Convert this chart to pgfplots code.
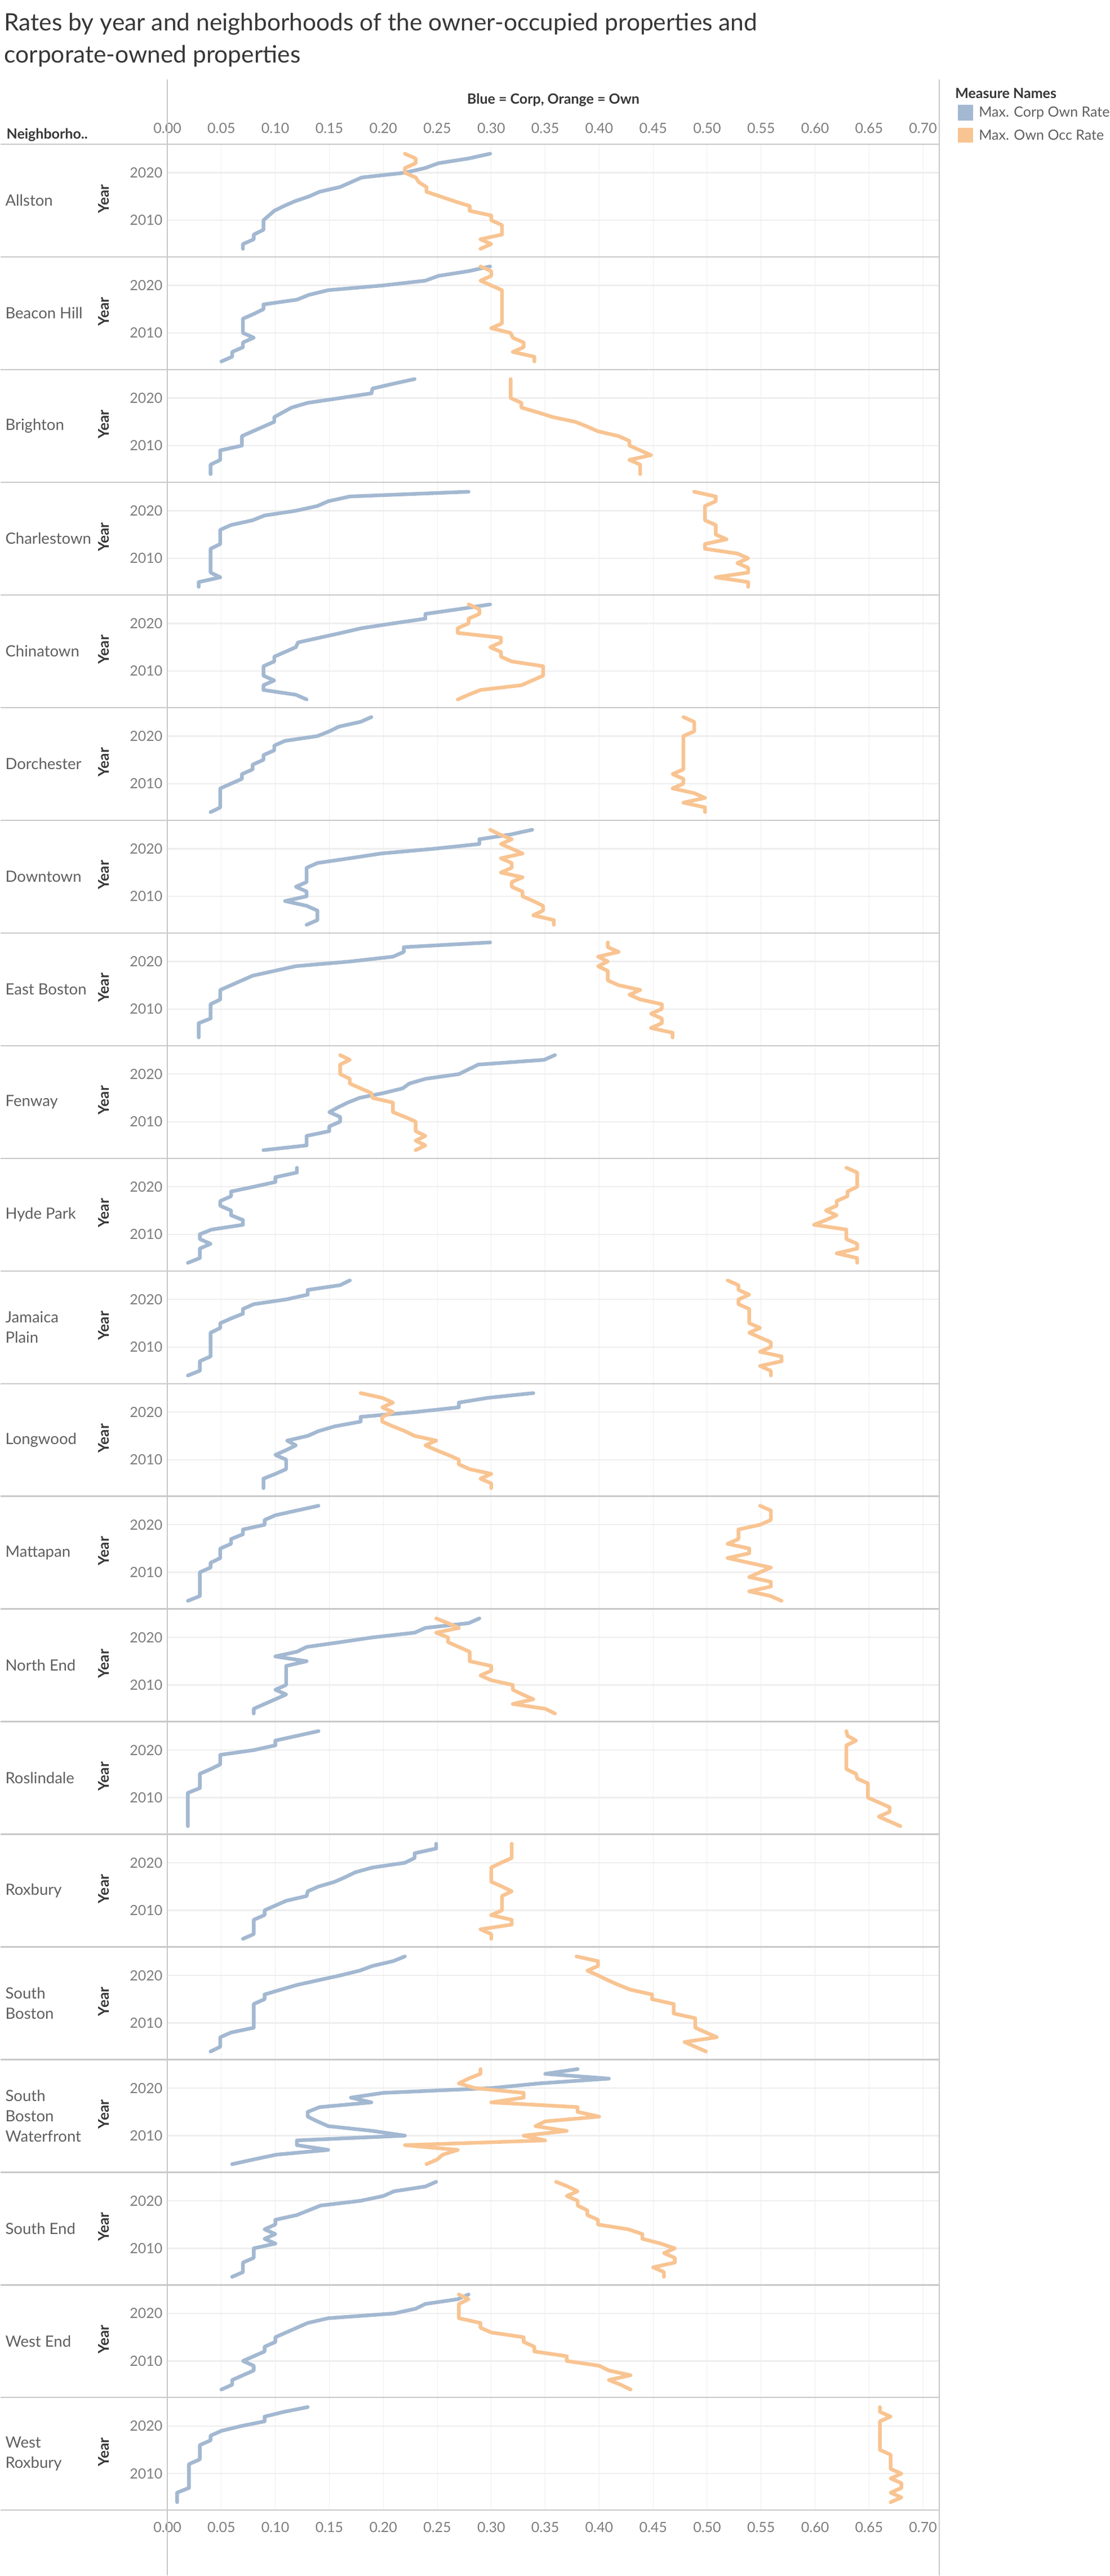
\documentclass[border=0pt]{standalone}
\usepackage{pgfplots}
\pgfplotsset{compat=1.18}
\usepackage{fontspec}
\setmainfont{Lato}
\definecolor{corp}{RGB}{163,184,209}
\definecolor{own}{RGB}{248,196,146}
\definecolor{gridc}{RGB}{238,238,238}
\definecolor{sepc}{RGB}{200,200,200}
\definecolor{tickc}{RGB}{125,125,125}
\definecolor{namec}{RGB}{95,95,95}
\definecolor{titc}{RGB}{55,55,55}
\newcommand{\fs}{\fontsize{10}{12}\selectfont}
\pgfplotsset{panel/.style={scale only axis, width=548pt, height=80pt,
  xmin=0, xmax=0.715, ymin=2002.3, ymax=2026,
  axis line style={draw=none}, tick style={draw=none},
  xtick={0,0.05,0.10,0.15,0.20,0.25,0.30,0.35,0.40,0.45,0.50,0.55,0.60,0.65,0.70},
  ytick={2010,2020}, xmajorgrids, ymajorgrids,
  x grid style={color=gridc, line width=0.4pt},
  y grid style={color=gridc, line width=0.9pt},
  xticklabels={},
  yticklabel style={font=\fs, color=tickc, /pgf/number format/1000 sep={}, /pgf/number format/assume math mode=true},
  xticklabel style={font=\fs, color=tickc},
  anchor=north west},
  corpl/.style={color=corp, line width=2.6pt, line join=round, line cap=round, mark=none},
  ownl/.style={color=own, line width=2.6pt, line join=round, line cap=round, mark=none}}
\newcommand{\xlabs}{xticklabels={0.00,0.05,0.10,0.15,0.20,0.25,0.30,0.35,0.40,0.45,0.50,0.55,0.60,0.65,0.70}}
\newcommand{\panel}[4]{%
\begin{axis}[panel, at={(118.4pt,{-(256+200*#1)*0.4pt})}, #4]
\addplot[corpl] coordinates {#2};
\addplot[ownl] coordinates {#3};
\end{axis}}
\begin{document}
\begin{tikzpicture}
\path (0,0) rectangle (786.4pt,-1828.8pt);
% Allston
\panel{0}{(0.299,2024)(0.279,2023)(0.251,2022)(0.239,2021)(0.22,2020)(0.18,2019)(0.17,2018)(0.16,2017)(0.141,2016)(0.131,2015)(0.118,2014)(0.108,2013)(0.099,2012)(0.094,2011)(0.089,2010)(0.089,2009)(0.089,2008)(0.08,2007)(0.08,2006)(0.07,2005)(0.07,2004)}
{(0.22,2024)(0.23,2023)(0.23,2022)(0.22,2021)(0.22,2020)(0.23,2019)(0.233,2018)(0.24,2017)(0.24,2016)(0.253,2015)(0.266,2014)(0.28,2013)(0.28,2012)(0.3,2011)(0.3,2010)(0.31,2009)(0.31,2008)(0.31,2007)(0.29,2006)(0.3,2005)(0.29,2004)}
{xticklabel pos=upper, \xlabs, xticklabel style={yshift=4pt}}
% Beacon Hill
\panel{1}{(0.299,2024)(0.279,2023)(0.251,2022)(0.239,2021)(0.2,2020)(0.149,2019)(0.131,2018)(0.12,2017)(0.089,2016)(0.089,2015)(0.08,2014)(0.07,2013)(0.07,2012)(0.07,2011)(0.07,2010)(0.08,2009)(0.07,2008)(0.07,2007)(0.06,2006)(0.06,2005)(0.05,2004)}
{(0.29,2024)(0.3,2023)(0.3,2022)(0.29,2021)(0.3,2020)(0.31,2019)(0.31,2018)(0.31,2017)(0.31,2016)(0.31,2015)(0.31,2014)(0.31,2013)(0.31,2012)(0.3,2011)(0.318,2010)(0.32,2009)(0.33,2008)(0.33,2007)(0.32,2006)(0.34,2005)(0.34,2004)}{}
% Brighton
\panel{2}{(0.229,2024)(0.209,2023)(0.19,2022)(0.189,2021)(0.16,2020)(0.13,2019)(0.115,2018)(0.107,2017)(0.099,2016)(0.099,2015)(0.089,2014)(0.079,2013)(0.069,2012)(0.069,2011)(0.069,2010)(0.049,2009)(0.049,2008)(0.049,2007)(0.04,2006)(0.04,2005)(0.04,2004)}
{(0.318,2024)(0.318,2023)(0.318,2022)(0.318,2021)(0.318,2020)(0.328,2019)(0.328,2018)(0.343,2017)(0.357,2016)(0.378,2015)(0.389,2014)(0.399,2013)(0.418,2012)(0.428,2011)(0.428,2010)(0.438,2009)(0.448,2008)(0.428,2007)(0.438,2006)(0.438,2005)(0.438,2004)}{}
% Charlestown
\panel{3}{(0.279,2024)(0.169,2023)(0.149,2022)(0.139,2021)(0.119,2020)(0.09,2019)(0.079,2018)(0.059,2017)(0.049,2016)(0.049,2015)(0.049,2014)(0.049,2013)(0.04,2012)(0.04,2011)(0.04,2010)(0.04,2009)(0.04,2008)(0.04,2007)(0.049,2006)(0.029,2005)(0.029,2004)}
{(0.488,2024)(0.508,2023)(0.508,2022)(0.498,2021)(0.498,2020)(0.498,2019)(0.498,2018)(0.508,2017)(0.508,2016)(0.508,2015)(0.518,2014)(0.498,2013)(0.498,2012)(0.528,2011)(0.538,2010)(0.528,2009)(0.538,2008)(0.538,2007)(0.508,2006)(0.538,2005)(0.538,2004)}{}
% Chinatown
\panel{4}{(0.299,2024)(0.27,2023)(0.239,2022)(0.239,2021)(0.209,2020)(0.18,2019)(0.161,2018)(0.141,2017)(0.121,2016)(0.119,2015)(0.109,2014)(0.099,2013)(0.099,2012)(0.089,2011)(0.089,2010)(0.089,2009)(0.099,2008)(0.089,2007)(0.089,2006)(0.119,2005)(0.129,2004)}
{(0.279,2024)(0.289,2023)(0.289,2022)(0.279,2021)(0.279,2020)(0.269,2019)(0.269,2018)(0.309,2017)(0.309,2016)(0.299,2015)(0.309,2014)(0.309,2013)(0.319,2012)(0.348,2011)(0.348,2010)(0.348,2009)(0.338,2008)(0.328,2007)(0.29,2006)(0.279,2005)(0.269,2004)}{}
% Dorchester
\panel{5}{(0.189,2024)(0.179,2023)(0.159,2022)(0.15,2021)(0.139,2020)(0.109,2019)(0.099,2018)(0.099,2017)(0.089,2016)(0.089,2015)(0.079,2014)(0.079,2013)(0.069,2012)(0.069,2011)(0.059,2010)(0.049,2009)(0.049,2008)(0.049,2007)(0.049,2006)(0.049,2005)(0.04,2004)}
{(0.478,2024)(0.488,2023)(0.488,2022)(0.488,2021)(0.478,2020)(0.478,2019)(0.478,2018)(0.478,2017)(0.478,2016)(0.478,2015)(0.478,2014)(0.478,2013)(0.468,2012)(0.478,2011)(0.478,2010)(0.468,2009)(0.488,2008)(0.498,2007)(0.478,2006)(0.498,2005)(0.498,2004)}{}
% Downtown
\panel{6}{(0.338,2024)(0.318,2023)(0.289,2022)(0.289,2021)(0.247,2020)(0.198,2019)(0.169,2018)(0.139,2017)(0.129,2016)(0.129,2015)(0.129,2014)(0.129,2013)(0.119,2012)(0.129,2011)(0.129,2010)(0.109,2009)(0.129,2008)(0.139,2007)(0.139,2006)(0.139,2005)(0.129,2004)}
{(0.299,2024)(0.308,2023)(0.319,2022)(0.309,2021)(0.319,2020)(0.329,2019)(0.309,2018)(0.319,2017)(0.319,2016)(0.309,2015)(0.329,2014)(0.319,2013)(0.319,2012)(0.329,2011)(0.329,2010)(0.339,2009)(0.348,2008)(0.348,2007)(0.339,2006)(0.358,2005)(0.358,2004)}{}
% East Boston
\panel{7}{(0.299,2024)(0.219,2023)(0.219,2022)(0.209,2021)(0.17,2020)(0.119,2019)(0.099,2018)(0.079,2017)(0.069,2016)(0.059,2015)(0.049,2014)(0.049,2013)(0.049,2012)(0.04,2011)(0.04,2010)(0.04,2009)(0.04,2008)(0.029,2007)(0.029,2006)(0.029,2005)(0.029,2004)}
{(0.408,2024)(0.408,2023)(0.418,2022)(0.399,2021)(0.408,2020)(0.399,2019)(0.408,2018)(0.408,2017)(0.408,2016)(0.418,2015)(0.438,2014)(0.428,2013)(0.438,2012)(0.458,2011)(0.458,2010)(0.448,2009)(0.458,2008)(0.458,2007)(0.448,2006)(0.468,2005)(0.468,2004)}{}
% Fenway
\panel{8}{(0.359,2024)(0.349,2023)(0.288,2022)(0.279,2021)(0.27,2020)(0.239,2019)(0.224,2018)(0.218,2017)(0.2,2016)(0.178,2015)(0.167,2014)(0.158,2013)(0.15,2012)(0.16,2011)(0.16,2010)(0.15,2009)(0.15,2008)(0.129,2007)(0.129,2006)(0.129,2005)(0.089,2004)}
{(0.16,2024)(0.169,2023)(0.16,2022)(0.16,2021)(0.16,2020)(0.169,2019)(0.169,2018)(0.179,2017)(0.189,2016)(0.19,2015)(0.209,2014)(0.209,2013)(0.209,2012)(0.22,2011)(0.23,2010)(0.23,2009)(0.23,2008)(0.239,2007)(0.23,2006)(0.239,2005)(0.23,2004)}{}
% Hyde Park
\panel{9}{(0.12,2024)(0.12,2023)(0.1,2022)(0.1,2021)(0.08,2020)(0.059,2019)(0.059,2018)(0.049,2017)(0.049,2016)(0.059,2015)(0.059,2014)(0.07,2013)(0.07,2012)(0.041,2011)(0.03,2010)(0.03,2009)(0.04,2008)(0.03,2007)(0.03,2006)(0.03,2005)(0.019,2004)}
{(0.629,2024)(0.639,2023)(0.639,2022)(0.639,2021)(0.639,2020)(0.63,2019)(0.63,2018)(0.62,2017)(0.62,2016)(0.61,2015)(0.62,2014)(0.61,2013)(0.599,2012)(0.629,2011)(0.629,2010)(0.629,2009)(0.639,2008)(0.639,2007)(0.62,2006)(0.639,2005)(0.639,2004)}{}
% Jamaica Plain
\panel{10}{(0.169,2024)(0.16,2023)(0.13,2022)(0.13,2021)(0.11,2020)(0.08,2019)(0.07,2018)(0.07,2017)(0.059,2016)(0.049,2015)(0.049,2014)(0.04,2013)(0.04,2012)(0.04,2011)(0.04,2010)(0.04,2009)(0.04,2008)(0.03,2007)(0.03,2006)(0.03,2005)(0.019,2004)}
{(0.519,2024)(0.529,2023)(0.529,2022)(0.539,2021)(0.529,2020)(0.529,2019)(0.539,2018)(0.539,2017)(0.539,2016)(0.539,2015)(0.549,2014)(0.539,2013)(0.549,2012)(0.559,2011)(0.559,2010)(0.549,2009)(0.569,2008)(0.569,2007)(0.549,2006)(0.559,2005)(0.559,2004)}{}
% Longwood
\panel{11}{(0.339,2024)(0.297,2023)(0.27,2022)(0.27,2021)(0.229,2020)(0.179,2019)(0.179,2018)(0.155,2017)(0.14,2016)(0.13,2015)(0.111,2014)(0.119,2013)(0.11,2012)(0.1,2011)(0.11,2010)(0.11,2009)(0.11,2008)(0.1,2007)(0.089,2006)(0.089,2005)(0.089,2004)}
{(0.179,2024)(0.199,2023)(0.209,2022)(0.199,2021)(0.209,2020)(0.199,2019)(0.199,2018)(0.209,2017)(0.22,2016)(0.229,2015)(0.249,2014)(0.239,2013)(0.249,2012)(0.26,2011)(0.27,2010)(0.27,2009)(0.28,2008)(0.3,2007)(0.29,2006)(0.3,2005)(0.3,2004)}{}
% Mattapan
\panel{12}{(0.14,2024)(0.12,2023)(0.1,2022)(0.09,2021)(0.09,2020)(0.07,2019)(0.07,2018)(0.059,2017)(0.059,2016)(0.049,2015)(0.049,2014)(0.049,2013)(0.04,2012)(0.04,2011)(0.03,2010)(0.03,2009)(0.03,2008)(0.03,2007)(0.03,2006)(0.03,2005)(0.019,2004)}
{(0.549,2024)(0.559,2023)(0.559,2022)(0.559,2021)(0.549,2020)(0.529,2019)(0.529,2018)(0.529,2017)(0.519,2016)(0.539,2015)(0.539,2014)(0.519,2013)(0.539,2012)(0.559,2011)(0.549,2010)(0.539,2009)(0.559,2008)(0.559,2007)(0.539,2006)(0.559,2005)(0.569,2004)}{}
% North End
\panel{13}{(0.289,2024)(0.279,2023)(0.239,2022)(0.229,2021)(0.19,2020)(0.16,2019)(0.129,2018)(0.12,2017)(0.1,2016)(0.129,2015)(0.11,2014)(0.11,2013)(0.11,2012)(0.11,2011)(0.11,2010)(0.1,2009)(0.11,2008)(0.1,2007)(0.09,2006)(0.08,2005)(0.08,2004)}
{(0.249,2024)(0.26,2023)(0.27,2022)(0.249,2021)(0.26,2020)(0.26,2019)(0.27,2018)(0.28,2017)(0.28,2016)(0.28,2015)(0.3,2014)(0.3,2013)(0.29,2012)(0.3,2011)(0.32,2010)(0.32,2009)(0.329,2008)(0.339,2007)(0.32,2006)(0.35,2005)(0.359,2004)}{}
% Roslindale
\panel{14}{(0.14,2024)(0.12,2023)(0.1,2022)(0.1,2021)(0.08,2020)(0.049,2019)(0.049,2018)(0.049,2017)(0.04,2016)(0.03,2015)(0.03,2014)(0.03,2013)(0.03,2012)(0.019,2011)(0.019,2010)(0.019,2009)(0.019,2008)(0.019,2007)(0.019,2006)(0.019,2005)(0.019,2004)}
{(0.629,2024)(0.63,2023)(0.638,2022)(0.629,2021)(0.629,2020)(0.629,2019)(0.629,2018)(0.629,2017)(0.629,2016)(0.638,2015)(0.639,2014)(0.649,2013)(0.649,2012)(0.649,2011)(0.649,2010)(0.659,2009)(0.669,2008)(0.669,2007)(0.659,2006)(0.669,2005)(0.679,2004)}{}
% Roxbury
\panel{15}{(0.249,2024)(0.249,2023)(0.229,2022)(0.229,2021)(0.22,2020)(0.19,2019)(0.174,2018)(0.165,2017)(0.155,2016)(0.14,2015)(0.13,2014)(0.129,2013)(0.11,2012)(0.1,2011)(0.09,2010)(0.09,2009)(0.08,2008)(0.08,2007)(0.08,2006)(0.08,2005)(0.07,2004)}
{(0.319,2024)(0.319,2023)(0.319,2022)(0.319,2021)(0.309,2020)(0.3,2019)(0.3,2018)(0.3,2017)(0.3,2016)(0.31,2015)(0.319,2014)(0.31,2013)(0.31,2012)(0.31,2011)(0.31,2010)(0.3,2009)(0.319,2008)(0.319,2007)(0.29,2006)(0.3,2005)(0.3,2004)}{}
% South Boston
\panel{16}{(0.22,2024)(0.209,2023)(0.19,2022)(0.178,2021)(0.16,2020)(0.14,2019)(0.12,2018)(0.105,2017)(0.09,2016)(0.09,2015)(0.08,2014)(0.08,2013)(0.08,2012)(0.08,2011)(0.08,2010)(0.08,2009)(0.059,2008)(0.049,2007)(0.049,2006)(0.049,2005)(0.04,2004)}
{(0.379,2024)(0.399,2023)(0.399,2022)(0.389,2021)(0.399,2020)(0.408,2019)(0.418,2018)(0.429,2017)(0.449,2016)(0.449,2015)(0.469,2014)(0.469,2013)(0.469,2012)(0.489,2011)(0.489,2010)(0.489,2009)(0.499,2008)(0.509,2007)(0.479,2006)(0.489,2005)(0.499,2004)}{}
% South Boston Waterfront
\panel{17}{(0.38,2024)(0.35,2023)(0.409,2022)(0.345,2021)(0.3,2020)(0.2,2019)(0.17,2018)(0.189,2017)(0.141,2016)(0.13,2015)(0.13,2014)(0.139,2013)(0.149,2012)(0.19,2011)(0.22,2010)(0.12,2009)(0.12,2008)(0.149,2007)(0.101,2006)(0.08,2005)(0.06,2004)}
{(0.29,2024)(0.29,2023)(0.279,2022)(0.27,2021)(0.285,2020)(0.33,2019)(0.33,2018)(0.3,2017)(0.38,2016)(0.38,2015)(0.4,2014)(0.35,2013)(0.341,2012)(0.37,2011)(0.33,2010)(0.35,2009)(0.22,2008)(0.269,2007)(0.255,2006)(0.25,2005)(0.24,2004)}{}
% South End
\panel{18}{(0.249,2024)(0.239,2023)(0.21,2022)(0.2,2021)(0.179,2020)(0.142,2019)(0.131,2018)(0.12,2017)(0.1,2016)(0.1,2015)(0.09,2014)(0.1,2013)(0.09,2012)(0.1,2011)(0.08,2010)(0.08,2009)(0.08,2008)(0.07,2007)(0.07,2006)(0.07,2005)(0.06,2004)}
{(0.36,2024)(0.371,2023)(0.38,2022)(0.37,2021)(0.38,2020)(0.38,2019)(0.389,2018)(0.389,2017)(0.399,2016)(0.399,2015)(0.427,2014)(0.44,2013)(0.44,2012)(0.457,2011)(0.47,2010)(0.46,2009)(0.47,2008)(0.47,2007)(0.45,2006)(0.46,2005)(0.46,2004)}{}
% West End
\panel{19}{(0.279,2024)(0.269,2023)(0.239,2022)(0.23,2021)(0.21,2020)(0.149,2019)(0.13,2018)(0.12,2017)(0.11,2016)(0.1,2015)(0.1,2014)(0.09,2013)(0.09,2012)(0.08,2011)(0.07,2010)(0.08,2009)(0.08,2008)(0.07,2007)(0.06,2006)(0.06,2005)(0.05,2004)}
{(0.27,2024)(0.279,2023)(0.27,2022)(0.27,2021)(0.27,2020)(0.27,2019)(0.29,2018)(0.29,2017)(0.3,2016)(0.33,2015)(0.33,2014)(0.34,2013)(0.34,2012)(0.37,2011)(0.37,2010)(0.4,2009)(0.409,2008)(0.429,2007)(0.409,2006)(0.42,2005)(0.429,2004)}{}
% West Roxbury
\panel{20}{(0.13,2024)(0.108,2023)(0.09,2022)(0.09,2021)(0.068,2020)(0.05,2019)(0.04,2018)(0.04,2017)(0.03,2016)(0.03,2015)(0.03,2014)(0.03,2013)(0.02,2012)(0.02,2011)(0.02,2010)(0.02,2009)(0.02,2008)(0.02,2007)(0.009,2006)(0.009,2005)(0.009,2004)}
{(0.66,2024)(0.66,2023)(0.67,2022)(0.66,2021)(0.66,2020)(0.66,2019)(0.66,2018)(0.66,2017)(0.66,2016)(0.66,2015)(0.67,2014)(0.67,2013)(0.67,2012)(0.67,2011)(0.68,2010)(0.67,2009)(0.68,2008)(0.68,2007)(0.67,2006)(0.68,2005)(0.67,2004)}
{xticklabel pos=lower, \xlabs, xticklabel style={yshift=-5pt}}
\begin{scope}[x=0.4pt,y=-0.4pt]
\draw[sepc, line width=0.6pt] (296,141) -- (296,4572);
\draw[sepc, line width=0.6pt] (1666,141) -- (1666,4572);
\draw[sepc, line width=0.9pt] (0,256) -- (1666,256);
\foreach \i in {0,...,20} \draw[sepc, line width=0.9pt] (0,{456+200*\i}) -- (1666,{456+200*\i});
\foreach \i/\n in {0/Allston,1/Beacon Hill,2/Brighton,3/Charlestown,4/Chinatown,5/Dorchester,6/Downtown,7/East Boston,8/Fenway,9/Hyde Park,10/{Jamaica\\Plain},11/Longwood,12/Mattapan,13/North End,14/Roslindale,15/Roxbury,16/{South\\Boston},17/{South\\Boston\\Waterfront},18/South End,19/West End,20/{West\\Roxbury}}
  \node[anchor=west, align=left, font=\fontsize{11}{14.4}\selectfont, text=namec, inner sep=0pt] at (8,{356+200*\i}) {\n};
\foreach \i in {0,...,20} \node[rotate=90, font=\fontsize{10.5}{12}\selectfont\bfseries, text=titc] at (183,{353+200*\i}) {Year};
\node[anchor=west, align=left, font=\fontsize{17}{23}\selectfont, text=titc, inner sep=0pt] at (6,71) {Rates by year and neighborhoods of the owner-occupied properties and\\corporate-owned properties};
\node[font=\fs\bfseries, text=titc] at (981,177) {Blue = Corp, Orange = Own};
\node[anchor=west, font=\fs\bfseries, text=titc, inner sep=0pt] at (10,240) {Neighborho..};
\node[anchor=west, font=\fs\bfseries, text=titc, inner sep=0pt] at (1694,166) {Measure Names};
\fill[corp] (1699,186) rectangle (1726,214);
\fill[own] (1699,227) rectangle (1726,253);
\node[anchor=west, font=\fs, text=namec, inner sep=0pt] at (1736,201) {Max. Corp Own Rate};
\node[anchor=west, font=\fs, text=namec, inner sep=0pt] at (1736,240) {Max. Own Occ Rate};
\end{scope}
\end{tikzpicture}
\end{document}
